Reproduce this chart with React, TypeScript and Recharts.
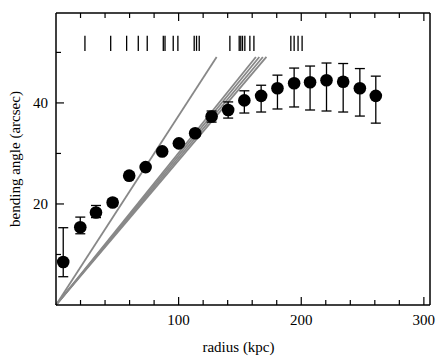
import React from 'react';
import {
  ComposedChart,
  Scatter,
  ErrorBar,
  XAxis,
  YAxis,
  ReferenceLine,
} from 'recharts';

// measured profile
const radius = [5.9, 19.8, 32.6, 46.2, 59.7, 73.1, 86.6, 100.2, 113.5, 126.9, 140.4, 153.6, 167.3, 180.6, 194.2, 207.2, 220.6, 234.2, 247.8, 260.8];
const angle = [8.5, 15.4, 18.3, 20.3, 25.6, 27.3, 30.4, 32.0, 34.0, 37.3, 38.6, 40.5, 41.4, 42.9, 43.9, 44.1, 44.5, 44.2, 42.9, 41.4];
const errLow = [2.9, 1.3, 1.0, 0.7, 0.5, 0.5, 0.5, 0.5, 0.6, 1.1, 1.6, 2.5, 3.2, 4.1, 4.7, 5.5, 6.1, 6.0, 5.5, 5.4];
const errHigh = [6.8, 2.0, 1.4, 0.7, 0.5, 0.5, 0.5, 0.5, 0.6, 1.1, 1.6, 1.9, 2.1, 2.6, 3.0, 3.2, 3.4, 3.6, 3.9, 3.9];

// rug of galaxy positions along the top
const rugX = [23.6, 44.6, 57.6, 67.1, 74.4, 87.5, 88.9, 95.6, 99.4, 112.7, 114.6, 116.8, 141.8, 149.4, 150.7, 152.1, 154.0, 158.1, 161.4, 191.5, 194.2, 197.4, 200.7];
const rugY = [50.3, 53.3];

// model lines from the origin
const modelEndX = [131, 163, 165.8, 168.7, 171.6];
const modelEndY = 49.1;

const xTicks = [20, 40, 60, 80, 100, 120, 140, 160, 180, 200, 220, 240, 260, 280, 300];
const xLabels = [100, 200, 300];
const yTicks = [10, 20, 30, 40, 50];
const yLabels = [20, 40];

const points = radius.map((r, i) => ({
  r,
  a: angle[i],
  err: [errLow[i], errHigh[i]],
}));

const FONT = '"Liberation Serif", "Times New Roman", serif';
const INK = '#000';

const BottomTick = ({ x, y, payload }: any) => {
  const major = xLabels.includes(payload.value);
  return (
    <g>
      <line x1={x} x2={x} y1={y} y2={y - (major ? 8 : 5)} stroke={INK} strokeWidth={1.2} />
      {major && (
        <text x={x} y={y + 20} textAnchor="middle" fontFamily={FONT} fontSize={15} fill={INK}>
          {payload.value}
        </text>
      )}
    </g>
  );
};

const TopTick = ({ x, y, payload }: any) => {
  const major = xLabels.includes(payload.value);
  return <line x1={x} x2={x} y1={y} y2={y + (major ? 8 : 5)} stroke={INK} strokeWidth={1.2} />;
};

const LeftTick = ({ x, y, payload }: any) => {
  const major = yLabels.includes(payload.value);
  return (
    <g>
      <line x1={x} x2={x + (major ? 8 : 5)} y1={y} y2={y} stroke={INK} strokeWidth={1.2} />
      {major && (
        <text x={x - 8} y={y + 5} textAnchor="end" fontFamily={FONT} fontSize={15} fill={INK}>
          {payload.value}
        </text>
      )}
    </g>
  );
};

const RightTick = ({ x, y, payload }: any) => {
  const major = yLabels.includes(payload.value);
  return <line x1={x} x2={x - (major ? 8 : 5)} y1={y} y2={y} stroke={INK} strokeWidth={1.2} />;
};

const Dot = (props: any) => <circle cx={props.cx} cy={props.cy} r={6.3} fill={INK} />;

export default function App() {
  return (
    <div style={{ position: 'absolute', left: 0, top: 0, background: '#fff' }}>
      <ComposedChart width={444} height={361} data={points} margin={{ top: 0, right: 0, bottom: 0, left: 0 }}>
        <XAxis
          dataKey="r"
          type="number"
          domain={[0, 305]}
          ticks={xTicks}
          interval={0}
          height={56}
          tickSize={0}
          tickMargin={0}
          tickLine={false}
          axisLine={{ stroke: INK, strokeWidth: 1.5 }}
          tick={<BottomTick />}
          label={{
            content: () => (
              <text x={238.5} y={352} textAnchor="middle" fontFamily={FONT} fontSize={15} fill={INK}>
                radius (kpc)
              </text>
            ),
          }}
        />
        <XAxis
          xAxisId="top"
          orientation="top"
          dataKey="r"
          type="number"
          domain={[0, 305]}
          ticks={xTicks}
          interval={0}
          height={13}
          tickSize={0}
          tickMargin={0}
          tickLine={false}
          axisLine={{ stroke: INK, strokeWidth: 1.5 }}
          tick={<TopTick />}
        />
        <YAxis
          type="number"
          domain={[0, 57.8]}
          ticks={yTicks}
          interval={0}
          width={56}
          tickSize={0}
          tickMargin={0}
          tickLine={false}
          axisLine={{ stroke: INK, strokeWidth: 1.5 }}
          tick={<LeftTick />}
          label={{
            content: () => (
              <text
                x={19.5}
                y={159}
                transform="rotate(-90, 19.5, 159)"
                textAnchor="middle"
                fontFamily={FONT}
                fontSize={15}
                fill={INK}
              >
                bending angle (arcsec)
              </text>
            ),
          }}
        />
        <YAxis
          yAxisId="right"
          orientation="right"
          type="number"
          domain={[0, 57.8]}
          ticks={yTicks}
          interval={0}
          width={14}
          tickSize={0}
          tickMargin={0}
          tickLine={false}
          axisLine={{ stroke: INK, strokeWidth: 1.5 }}
          tick={<RightTick />}
        />

        {modelEndX.map((ex, i) => (
          <ReferenceLine
            key={`m${i}`}
            segment={[{ x: 0, y: 0 }, { x: ex, y: modelEndY }]}
            stroke="#888"
            strokeWidth={1.8}
          />
        ))}

        {rugX.map((rx, i) => (
          <ReferenceLine
            key={`g${i}`}
            segment={[{ x: rx, y: rugY[0] }, { x: rx, y: rugY[1] }]}
            stroke={INK}
            strokeWidth={1.3}
          />
        ))}

        <Scatter dataKey="a" fill={INK} shape={<Dot />} isAnimationActive={false}>
          <ErrorBar dataKey="err" direction="y" width={5} stroke={INK} strokeWidth={1.3} />
        </Scatter>
      </ComposedChart>
    </div>
  );
}
